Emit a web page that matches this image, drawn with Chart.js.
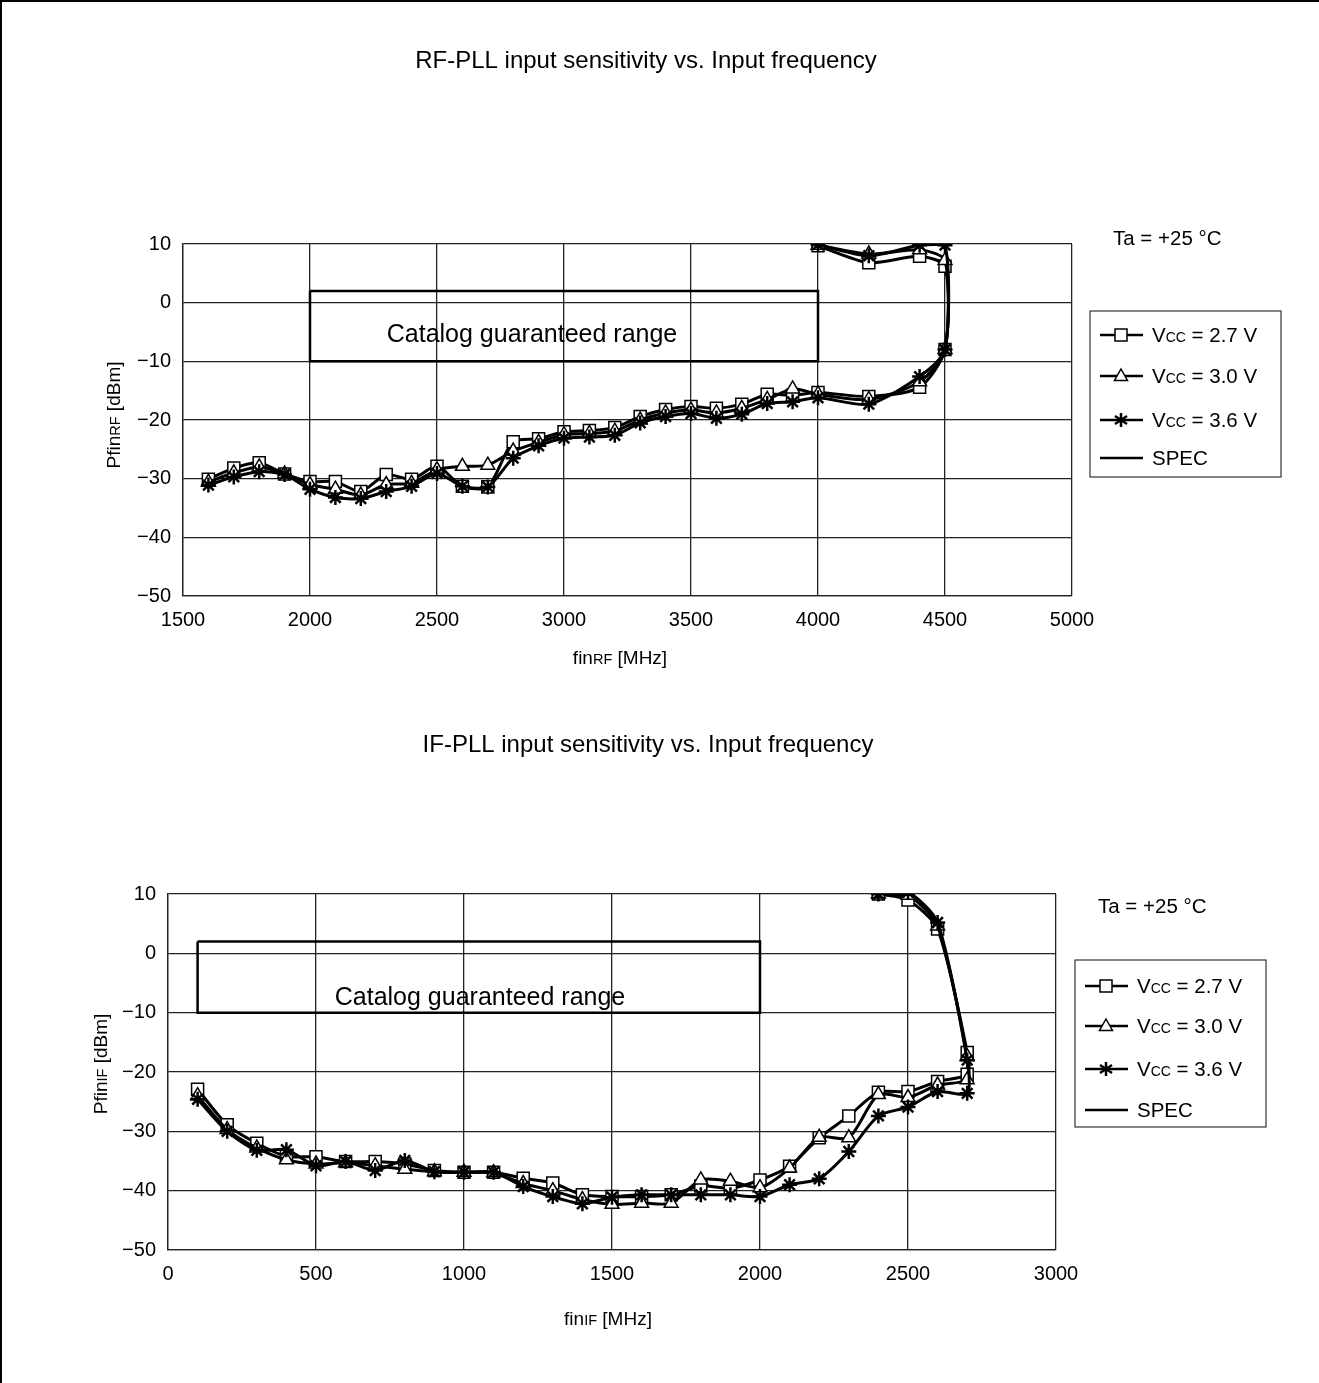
<!DOCTYPE html>
<html>
<head>
<meta charset="utf-8">
<title>PLL input sensitivity vs. Input frequency</title>
<script src="https://cdn.jsdelivr.net/npm/chart.js@4"></script>
<style>
  body { margin: 0; background: #fff; }
  #page { position: relative; width: 1319px; height: 1383px; overflow: hidden; }
  #page canvas { position: absolute; left: 0; }
  #frame { position: absolute; left: 0; top: 0; width: 1319px; height: 1383px;
           border-left: 2px solid #000; border-top: 2px solid #000; box-sizing: border-box; pointer-events: none; }
</style>
</head>
<body>
<div id="page">
  <canvas id="rfChart" width="1319" height="690" style="top:0"></canvas>
  <canvas id="ifChart" width="1319" height="693" style="top:690px"></canvas>
  <div id="frame"></div>
</div>
<script>
// RF-PLL: lower branch 1600..4000 step 100, 4200, 4400, 4500 then upper branch back down
const rfFreq = [1600, 1700, 1800, 1900, 2000, 2100, 2200, 2300, 2400, 2500, 2600, 2700, 2800, 2900,
  3000, 3100, 3200, 3300, 3400, 3500, 3600, 3700, 3800, 3900, 4000, 4200, 4400, 4500,
  4500, 4400, 4200, 4000];
const rf27 = [-30.1, -28.2, -27.3, -29.2, -30.5, -30.5, -32.2, -29.3, -30.1, -27.9, -31.3, -31.4, -23.7, -23.2,
  -22.0, -21.8, -21.3, -19.4, -18.2, -17.7, -18.0, -17.3, -15.6, -15.8, -15.3, -16.0, -14.4, -8.0,
  6.2, 7.9, 6.8, 9.7];
const rf30 = [-30.6, -29.0, -28.0, -29.2, -31.0, -31.8, -32.8, -31.0, -30.8, -28.5, -27.9, -27.7, -25.3, -23.8,
  -22.5, -22.3, -21.9, -20.0, -18.8, -18.3, -18.8, -18.0, -16.5, -14.7, -15.6, -16.5, -13.5, -8.0,
  7.2, 9.0, 8.3, 9.8];
const rf36 = [-31.1, -29.7, -28.8, -29.3, -31.8, -33.2, -33.4, -32.2, -31.3, -29.1, -31.3, -31.4, -26.5, -24.4,
  -23.1, -22.9, -22.6, -20.5, -19.4, -18.9, -19.7, -19.0, -17.2, -16.9, -16.2, -17.3, -12.6, -8.0,
  9.8, 9.8, 8.0, 9.9];
const rfSpecX = [2000, 4000, 4000, 2000, 2000];
const rfSpecY = [2, 2, -10, -10, 2];

// IF-PLL: lower branch 100..2700 step 100 then upper branch back down
const ifFreq = [100, 200, 300, 400, 500, 600, 700, 800, 900, 1000, 1100, 1200, 1300, 1400, 1500,
  1600, 1700, 1800, 1900, 2000, 2100, 2200, 2300, 2400, 2500, 2600, 2700,
  2700, 2600, 2500, 2400];
const if27 = [-22.9, -28.9, -32.0, -34.2, -34.3, -35.1, -35.1, -35.5, -36.6, -36.9, -36.9, -37.9, -38.7, -40.7, -41.0,
  -41.0, -40.7, -39.2, -39.6, -38.2, -35.9, -31.1, -27.4, -23.4, -23.3, -21.6, -20.4,
  -16.7, 4.1, 9.0, 10.0];
const if30 = [-24.0, -29.7, -32.8, -34.8, -35.5, -35.3, -35.8, -36.4, -36.8, -36.9, -37.0, -38.8, -40.0, -41.5, -42.3,
  -42.1, -42.1, -38.2, -38.4, -39.5, -36.2, -31.0, -31.1, -23.8, -24.3, -22.2, -21.3,
  -17.4, 4.6, 9.8, 10.0];
const if36 = [-24.6, -30.0, -33.2, -33.1, -35.8, -35.1, -36.6, -34.9, -36.8, -36.9, -36.9, -39.3, -41.0, -42.2, -41.1,
  -40.7, -40.7, -40.7, -40.7, -41.0, -39.0, -38.0, -33.4, -27.4, -25.9, -23.3, -23.6,
  -18.0, 5.2, 10.3, 10.0];
const ifSpecX = [100, 2000, 2000, 100, 100];
const ifSpecY = [2, 2, -10, -10, 2];

const seriesNames = ['2.7 V', '3.0 V', '3.6 V'];
const specName = 'SPEC';

const FONT = '"Liberation Sans", Arial, sans-serif';
const INK = '#000';

function pts(xs, ys) {
  return xs.map((x, i) => ({ x: x, y: ys[i] }));
}

function seriesSet(xs, a, b, c, sx, sy) {
  const common = { showLine: true, tension: 0.25, borderColor: INK, borderWidth: 3, pointBorderColor: INK };
  return [
    Object.assign({}, common, { label: seriesNames[0], data: pts(xs, a), pointStyle: 'rect',
      pointRadius: 8.5, pointBorderWidth: 1.5, pointBackgroundColor: '#fff', order: 2 }),
    Object.assign({}, common, { label: seriesNames[1], data: pts(xs, b), pointStyle: 'triangle',
      pointRadius: 8, pointBorderWidth: 1.5, pointBackgroundColor: '#fff', order: 1 }),
    Object.assign({}, common, { label: seriesNames[2], data: pts(xs, c), pointStyle: 'star',
      pointRadius: 7.5, pointBorderWidth: 2.5, pointBackgroundColor: INK, order: 0 }),
    { label: specName, data: pts(sx, sy), showLine: true, tension: 0, borderColor: INK, borderWidth: 2.5,
      pointRadius: 0, order: 3 }
  ];
}

// text with mixed sizes on one baseline: parts = [[text, px], ...]
function richWidth(ctx, parts) {
  let w = 0;
  parts.forEach(p => { ctx.font = p[1] + 'px ' + FONT; w += ctx.measureText(p[0]).width; });
  return w;
}
function drawRich(ctx, parts, x, y, align) {
  let cx = align === 'center' ? x - richWidth(ctx, parts) / 2 : x;
  ctx.textAlign = 'left';
  ctx.textBaseline = 'alphabetic';
  parts.forEach(p => {
    ctx.font = p[1] + 'px ' + FONT;
    ctx.fillText(p[0], cx, y);
    cx += ctx.measureText(p[0]).width;
  });
}

function marker(ctx, style, x, y) {
  ctx.save();
  ctx.strokeStyle = INK;
  ctx.fillStyle = '#fff';
  ctx.lineWidth = 1.5;
  if (style === 'rect') {
    ctx.fillRect(x - 6, y - 6, 12, 12);
    ctx.strokeRect(x - 6, y - 6, 12, 12);
  } else if (style === 'triangle') {
    ctx.beginPath();
    ctx.moveTo(x, y - 7);
    ctx.lineTo(x + 6.5, y + 4.5);
    ctx.lineTo(x - 6.5, y + 4.5);
    ctx.closePath();
    ctx.fill();
    ctx.stroke();
  } else if (style === 'star') {
    ctx.lineWidth = 2.5;
    ctx.beginPath();
    [[0, 7], [6, 4], [6, -4]].forEach(d => {
      ctx.moveTo(x - d[0], y - d[1]);
      ctx.lineTo(x + d[0], y + d[1]);
    });
    ctx.stroke();
  }
  ctx.restore();
}

const decorPlugin = {
  id: 'decor',
  afterDraw(chart, args, o) {
    const ctx = chart.ctx;
    ctx.save();
    ctx.fillStyle = INK;

    drawRich(ctx, [[o.title, 24]], o.titleX, o.titleY, 'center');
    drawRich(ctx, [['fin', 19], [o.sub, 14.5], [' [MHz]', 19]], o.xTitleX, o.xTitleY, 'center');

    ctx.save();
    ctx.translate(o.yTitleX, o.yTitleY);
    ctx.rotate(-Math.PI / 2);
    drawRich(ctx, [['Pfin', 19], [o.sub, 14.5], [' [dBm]', 19]], 0, 7, 'center');
    ctx.restore();

    drawRich(ctx, [['Catalog guaranteed range', 25]], o.specX, o.specY + 9, 'center');
    drawRich(ctx, [['Ta = +25 \u00b0C', 20.5]], o.taX, o.taY + 7, 'left');

    // legend box
    const lg = o.legend;
    ctx.strokeStyle = '#333';
    ctx.lineWidth = 1.2;
    ctx.strokeRect(lg.x, lg.y, lg.w, lg.h);
    chart.data.datasets.forEach((ds, i) => {
      const y = lg.rows[i];
      ctx.strokeStyle = INK;
      ctx.lineWidth = 2.5;
      ctx.beginPath();
      ctx.moveTo(lg.x + 10, y);
      ctx.lineTo(lg.x + 53, y);
      ctx.stroke();
      if (ds.pointRadius) marker(ctx, ds.pointStyle, lg.x + 31, y);
      ctx.fillStyle = INK;
      const parts = ds.label === specName ? [[specName, 20.5]] : [['V', 20.5], ['CC', 14], [' = ' + ds.label, 20.5]];
      drawRich(ctx, parts, lg.x + 62, y + 7, 'left');
    });
    ctx.restore();
  }
};

const tickText = v => String(v).replace('-', '\u2212');

function makeChart(id, sets, xMin, xMax, pad, decor) {
  return new Chart(document.getElementById(id), {
    type: 'scatter',
    data: { datasets: sets },
    plugins: [decorPlugin],
    options: {
      responsive: false,
      animation: false,
      layout: { padding: pad },
      plugins: { legend: { display: false }, tooltip: { enabled: false }, decor: decor },
      scales: {
        x: {
          type: 'linear', min: xMin, max: xMax,
          afterFit: s => { s.height = 40; },
          grid: { color: '#222', lineWidth: 1.3, drawTicks: false },
          border: { color: '#222', width: 1.3 },
          ticks: { stepSize: 500, padding: 12, color: INK, font: { family: FONT, size: 20 }, callback: tickText }
        },
        y: {
          min: -50, max: 10,
          afterFit: s => { s.width = 60; },
          grid: { color: '#222', lineWidth: 1.3, drawTicks: false },
          border: { color: '#222', width: 1.3 },
          ticks: { stepSize: 10, padding: 12, color: INK, font: { family: FONT, size: 20 }, callback: tickText }
        }
      }
    }
  });
}

makeChart('rfChart', seriesSet(rfFreq, rf27, rf30, rf36, rfSpecX, rfSpecY), 1500, 5000,
  { left: 123, right: 247, top: 244, bottom: 54 },
  { title: 'RF-PLL input sensitivity vs. Input frequency', titleX: 646, titleY: 68, sub: 'RF',
    xTitleX: 620, xTitleY: 664, yTitleX: 113, yTitleY: 415, specX: 532, specY: 333, taX: 1113, taY: 238,
    legend: { x: 1090, y: 311, w: 191, h: 166, rows: [335, 376, 420, 458] } });

makeChart('ifChart', seriesSet(ifFreq, if27, if30, if36, ifSpecX, ifSpecY), 0, 3000,
  { left: 108, right: 263, top: 204, bottom: 93 },
  { title: 'IF-PLL input sensitivity vs. Input frequency', titleX: 648, titleY: 62, sub: 'IF',
    xTitleX: 608, xTitleY: 635, yTitleX: 100, yTitleY: 374, specX: 480, specY: 306, taX: 1098, taY: 216,
    legend: { x: 1075, y: 270, w: 191, h: 167, rows: [296, 336, 379, 420] } });
</script>
</body>
</html>
